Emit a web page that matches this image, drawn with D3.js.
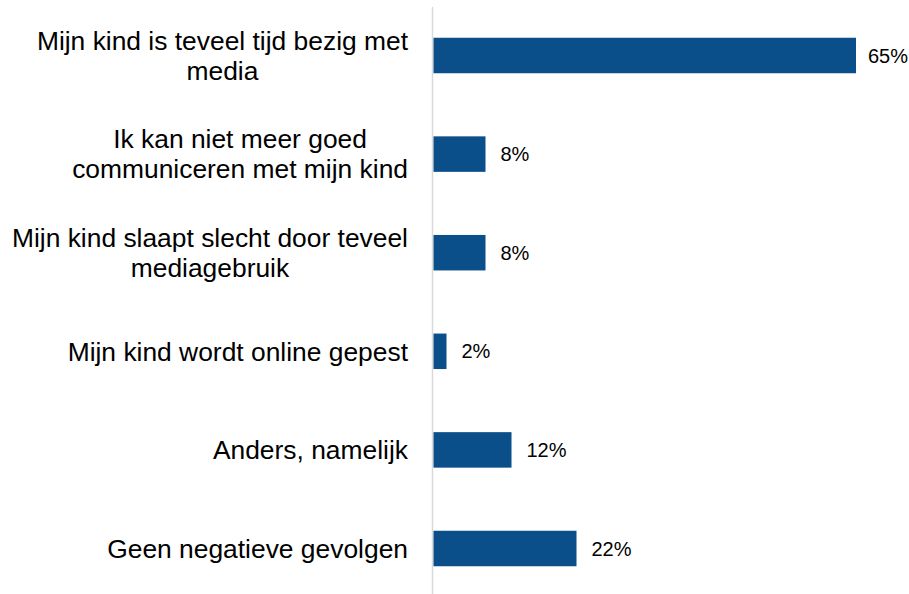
<!DOCTYPE html>
<html>
<head>
<meta charset="utf-8">
<script src="https://cdn.jsdelivr.net/npm/d3@7"></script>
<style>
  html, body { margin: 0; padding: 0; background: #fff; }
  svg { display: block; }
  text { font-family: "Liberation Sans", Arial, sans-serif; fill: #000; }
</style>
</head>
<body>
<svg id="chart" width="909" height="594"></svg>
<script>
const categories = [
  ["Mijn kind is teveel tijd bezig met", "media"],
  ["Ik kan niet meer goed", "communiceren met mijn kind"],
  ["Mijn kind slaapt slecht door teveel", "mediagebruik"],
  ["Mijn kind wordt online gepest"],
  ["Anders, namelijk"],
  ["Geen negatieve gevolgen"]
];
const values = [65, 8, 8, 2, 12, 22];
const valueLabels = ["65%", "8%", "8%", "2%", "12%", "22%"];

const W = 909;
const svg = d3.select("#chart");
const x = d3.scaleLinear().domain([0, 65]).range([433.5, 856]);
const y = d3.scaleBand().domain(d3.range(values.length)).range([6.2, 597.8]).paddingInner(0.64).paddingOuter(0.32);

// axis line
svg.append("line")
  .attr("x1", 432.5).attr("x2", 432.5)
  .attr("y1", 7).attr("y2", 594)
  .attr("stroke", "#d9d9d9").attr("stroke-width", 1.5);

// bars
svg.selectAll("rect.bar").data(values).enter().append("rect")
  .attr("class", "bar")
  .attr("x", x(0))
  .attr("y", (d, i) => y(i))
  .attr("width", d => x(d) - x(0))
  .attr("height", y.bandwidth())
  .attr("fill", "#0b4f8a");

// value labels
svg.selectAll("text.val").data(values).enter().append("text")
  .attr("class", "val")
  .attr("y", (d, i) => y(i) + y.bandwidth() / 2)
  .attr("dy", "0.35em")
  .attr("font-size", 20)
  .text((d, i) => valueLabels[i])
  .each(function(d) {
    const w = this.getComputedTextLength();
    d3.select(this).attr("x", Math.min(x(d) + 15, W - 1 - w));
  });

// category labels (centered block, right aligned)
const rightEdge = 408;
const fs = 26.4, lh = 30;
categories.forEach((lines, i) => {
  const g = svg.append("g");
  const cy = y(i) + y.bandwidth() / 2;
  const texts = lines.map((l, j) => g.append("text")
    .attr("font-size", fs)
    .attr("text-anchor", "middle")
    .attr("y", cy + (j - (lines.length - 1) / 2) * lh)
    .attr("dy", "0.35em")
    .text(l));
  const maxW = d3.max(texts, t => t.node().getComputedTextLength());
  texts.forEach(t => t.attr("x", rightEdge - maxW / 2));
});
</script>
</body>
</html>
